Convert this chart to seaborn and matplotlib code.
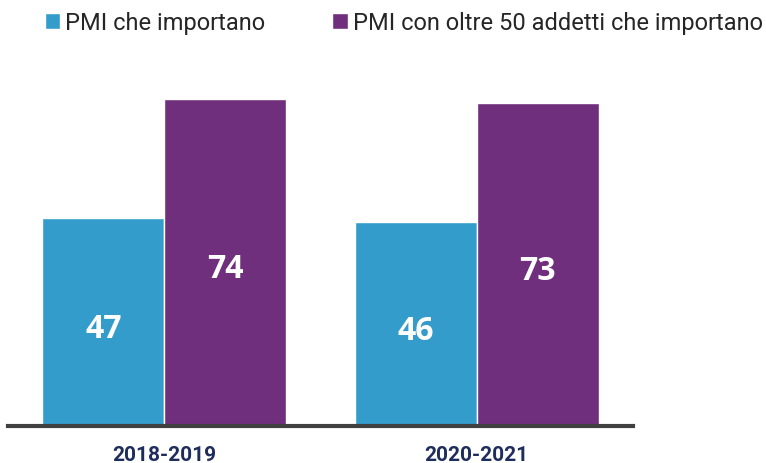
import pandas as pd
import seaborn as sns
import matplotlib.pyplot as plt

periods = ["2018-2019", "2020-2021"]
series_names = ["PMI che importano", "PMI con oltre 50 addetti che importano"]
pmi_all = [47, 46]
pmi_50 = [74, 73]

colors = ["#339ccb", "#6f2f7c"]

df = pd.DataFrame({
    "periodo": periods * 2,
    "serie": [series_names[0]] * 2 + [series_names[1]] * 2,
    "valore": pmi_all + pmi_50,
})

sns.set_style("white")
plt.rcParams["font.family"] = ["Roboto", "DejaVu Sans"]

fig = plt.figure(figsize=(7.66, 4.64), dpi=100)
ax = fig.add_axes([8 / 766, 37 / 464, 625 / 766, 354 / 464])

sns.barplot(data=df, x="periodo", y="valore", hue="serie", palette=colors,
            saturation=1, width=0.78, gap=0, edgecolor="white", linewidth=1,
            ax=ax, legend=True)

for cont in ax.containers:
    texts = ax.bar_label(cont, label_type="center", color="white", fontsize=23,
                         fontweight="bold", family="Open Sans")
    for t in texts:
        t.xyann = (0, -4.5)  # nudge down a bit

ax.set_xlim(-0.5, 1.5)
ax.set_ylim(0, 80)
ax.set_xlabel("")
ax.set_ylabel("")
ax.set_yticks([])
for s in ["top", "right", "left"]:
    ax.spines[s].set_visible(False)
ax.spines["bottom"].set_color("#404040")
ax.spines["bottom"].set_linewidth(3)
ax.tick_params(axis="x", length=0, pad=14, labelsize=15, labelcolor="#1f2d5c")
for t in ax.get_xticklabels():
    t.set_fontweight("bold")

handles, labels = ax.get_legend_handles_labels()
ax.get_legend().remove()
fig.legend(handles, labels, loc="upper left", bbox_to_anchor=(0.031, 1.02),
           ncol=2, frameon=False, fontsize=17, handlelength=0.65,
           handleheight=0.65, handletextpad=0.2, columnspacing=2.85)

fig.savefig("out.png", dpi=100)
